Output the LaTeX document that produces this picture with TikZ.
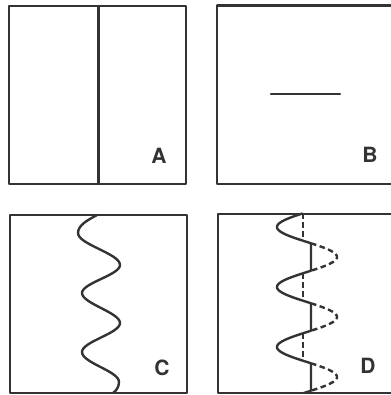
\documentclass[tikz,border=0pt]{standalone}
\usepackage{fontspec}
\setmainfont{TeX Gyre Heros}
\begin{document}
\begin{tikzpicture}[x=1pt,y=-1pt,
  ink/.style={draw=black!80,line width=2.4pt,line cap=round,line join=round},
  dashline/.style={ink,line cap=butt,dash pattern=on 5.5pt off 3.5pt},
  lab/.style={text=black!80,font=\fontsize{21}{21}\selectfont\bfseries,inner sep=0pt}]
\useasboundingbox (0,0) rectangle (390,395);
% Panel A
\draw[ink] (9,6) rectangle (186,184);
\draw[ink] (98.5,6) -- (98.5,184);
\node[lab] (la) at (159,156) {A};
% Panel B
\draw[ink] (217,5.5) rectangle (400,184);
\draw[ink] (271,94) -- (340,94);
\node[lab] (lb) at (370,155) {B};
% Panel C
\draw[ink] (10,215) rectangle (187,393);
\draw[ink] (97,215) .. controls (88,220) and (78,225) .. (78,233)
  .. controls (78,244.5) and (120,253.5) .. (120,265)
  .. controls (120,275) and (82,283) .. (82,293)
  .. controls (82,303.5) and (120,312.5) .. (120,323)
  .. controls (120,333.5) and (82,341.5) .. (82,352)
  .. controls (82,363) and (119,371) .. (119,382)
  .. controls (119,387) and (116,391) .. (113,393);
\node[lab] (lc) at (162,368) {C};
% Panel D
\draw[ink] (218,214) rectangle (400,393);
\draw[ink] plot[domain=213.5:393,samples=240,variable=\t] ({min(307-30*sin(6*(\t-212)),311)},\t);
\foreach \k in {0,60,120}{
  \draw[dashline] (303,213.3+\k) -- (303,240.7+\k);
  \draw[dashline] plot[domain=243.3+\k:270.7+\k,samples=40,variable=\t] ({307-30*sin(6*(\t-212))},\t);
}
\node[lab] (ld) at (368,366) {D};
\end{tikzpicture}
\end{document}
